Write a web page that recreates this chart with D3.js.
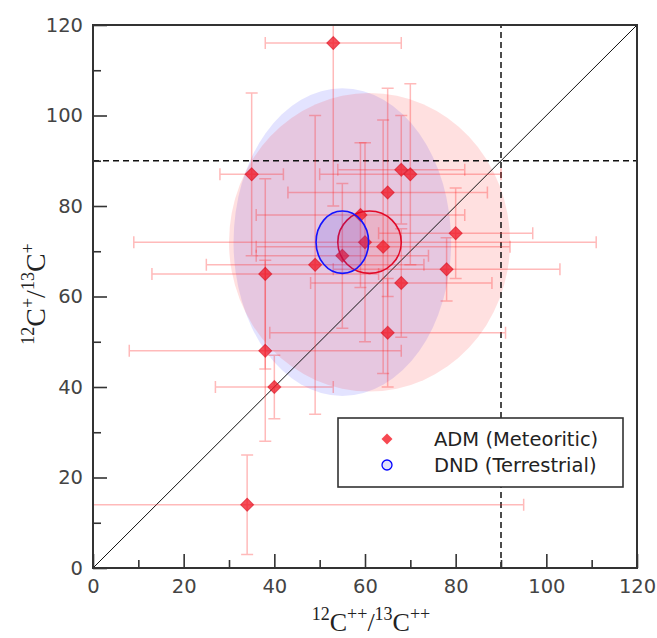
<!DOCTYPE html>
<html>
<head>
<meta charset="utf-8">
<script src="https://cdn.jsdelivr.net/npm/d3@7"></script>
<style>
  body { margin: 0; background: #fff; }
  svg { display: block; }
</style>
</head>
<body>
<div id="chart"></div>
<script>
'use strict';

// ADM (meteoritic) points
var admX = [53, 35, 68, 70, 65, 59, 80, 60, 64, 55, 49, 78, 38, 68, 65, 38, 40, 34];
var admY = [116, 87, 88, 87, 83, 78, 74, 72, 71, 69, 67, 66, 65, 63, 52, 48, 40, 14];
var admXErr = [15, 7, 14, 20, 22, 23, 17, 51, 28, 19, 24, 25, 25, 20, 26, 30, 13, 61];
var admYErr = [36, 18, 12, 20, 23, 16, 10, 22, 28, 16, 33, 7, 21, 12, 12, 20, 7, 11];

// group ellipses: [ADM, DND]
var groupNames = ['ADM (Meteoritic)', 'DND (Terrestrial)'];
var groupCx = [61, 55];
var groupCy = [72, 72];
var spreadRx = [31, 24];
var spreadRy = [33, 34];
var meanRx = [7, 5.8];
var meanRy = [6.9, 6.9];

var majorTicks = [0, 20, 40, 60, 80, 100, 120];
var minorTicks = [10, 30, 50, 70, 90, 110];
var limitValue = 90;

var width = 657, height = 638;
var plotLeft = 93, plotRight = 637, plotTop = 25, plotBottom = 568;

var x = d3.scaleLinear().domain([0, 120]).range([plotLeft, plotRight]);
var y = d3.scaleLinear().domain([0, 120]).range([plotBottom, plotTop]);

var svg = d3.select('#chart').append('svg')
    .attr('width', width)
    .attr('height', height);

svg.append('clipPath').attr('id', 'plotclip')
  .append('rect')
    .attr('x', plotLeft).attr('y', plotTop)
    .attr('width', plotRight - plotLeft).attr('height', plotBottom - plotTop);

var plot = svg.append('g').attr('clip-path', 'url(#plotclip)');

var blue = 'rgb(0,0,255)';
var groupFill = ['rgba(255,0,0,0.12)', 'rgba(0,0,255,0.11)'];

// big spread ellipses (blue under red)
[1, 0].forEach(function(i) {
    plot.append('ellipse')
        .attr('cx', x(groupCx[i]))
        .attr('cy', y(groupCy[i]))
        .attr('rx', x(spreadRx[i]) - x(0))
        .attr('ry', y(0) - y(spreadRy[i]))
        .attr('fill', groupFill[i]);
});

// 1:1 line
plot.append('line')
    .attr('x1', x(0)).attr('y1', y(0))
    .attr('x2', x(120)).attr('y2', y(120))
    .attr('stroke', '#111')
    .attr('stroke-width', 1);

// terrestrial reference lines
plot.append('line')
    .attr('x1', x(0)).attr('x2', x(120))
    .attr('y1', y(limitValue)).attr('y2', y(limitValue))
    .attr('stroke', '#111').attr('stroke-width', 1.5)
    .attr('stroke-dasharray', '6,4');
plot.append('line')
    .attr('x1', x(limitValue)).attr('x2', x(limitValue))
    .attr('y1', y(0)).attr('y2', y(120))
    .attr('stroke', '#111').attr('stroke-width', 1.5)
    .attr('stroke-dasharray', '6,4');

// error bars
var cap = 6;
var barColor = 'rgba(255,40,40,0.32)';
var bars = plot.append('g')
    .attr('stroke', barColor)
    .attr('stroke-width', 1.5)
    .attr('fill', 'none');

admX.forEach(function(v, i) {
    var px = x(v), py = y(admY[i]);
    var x0 = x(v - admXErr[i]), x1 = x(v + admXErr[i]);
    var y0 = y(admY[i] - admYErr[i]), y1 = y(admY[i] + admYErr[i]);
    bars.append('path')
        .attr('d', 'M' + x0 + ',' + py + 'H' + x1 +
            'M' + x0 + ',' + (py - cap) + 'V' + (py + cap) +
            'M' + x1 + ',' + (py - cap) + 'V' + (py + cap) +
            'M' + px + ',' + y0 + 'V' + y1 +
            'M' + (px - cap) + ',' + y0 + 'H' + (px + cap) +
            'M' + (px - cap) + ',' + y1 + 'H' + (px + cap));
});

// diamonds
var diamond = d3.symbol().type(d3.symbolSquare).size(86);
plot.append('g').selectAll('path')
    .data(admX)
    .join('path')
    .attr('d', diamond)
    .attr('transform', function(d, i) {
        return 'translate(' + x(d) + ',' + y(admY[i]) + ') rotate(45)';
    })
    .attr('fill', 'rgba(240,20,35,0.75)')
    .attr('stroke', 'rgba(210,0,20,0.5)')
    .attr('stroke-width', 1);

// mean ellipses
var meanStroke = ['rgb(225,10,40)', 'rgb(20,20,255)'];
var meanFill = ['rgba(255,60,60,0.14)', 'rgba(40,40,255,0.14)'];
[0, 1].forEach(function(i) {
    plot.append('ellipse')
        .attr('cx', x(groupCx[i]))
        .attr('cy', y(groupCy[i]))
        .attr('rx', x(meanRx[i]) - x(0))
        .attr('ry', y(0) - y(meanRy[i]))
        .attr('fill', meanFill[i])
        .attr('stroke', meanStroke[i])
        .attr('stroke-width', 1.6);
});

// axes, ticks inside
var labelColor = '#444';
var fontFamily = '"DejaVu Sans", Verdana, sans-serif';

function styleAxis(g) {
    g.select('.domain').remove();
    g.selectAll('.tick line').attr('stroke', '#333').attr('stroke-width', 1.6);
    g.selectAll('.tick text')
        .attr('fill', labelColor)
        .style('font-family', fontFamily)
        .style('font-size', '19.5px');
}

svg.append('g')
    .attr('transform', 'translate(0,' + plotBottom + ')')
    .call(d3.axisBottom(x).tickValues(minorTicks).tickSize(-8).tickFormat(''))
    .call(styleAxis);
svg.append('g')
    .attr('transform', 'translate(0,' + plotBottom + ')')
    .call(d3.axisBottom(x).tickValues(majorTicks).tickSize(-14).tickPadding(11))
    .call(styleAxis);
svg.append('g')
    .attr('transform', 'translate(' + plotLeft + ',0)')
    .call(d3.axisLeft(y).tickValues(minorTicks).tickSize(-8).tickFormat(''))
    .call(styleAxis);
svg.append('g')
    .attr('transform', 'translate(' + plotLeft + ',0)')
    .call(d3.axisLeft(y).tickValues(majorTicks).tickSize(-14).tickPadding(10))
    .call(styleAxis);

// frame
svg.append('rect')
    .attr('x', plotLeft).attr('y', plotTop)
    .attr('width', plotRight - plotLeft).attr('height', plotBottom - plotTop)
    .attr('fill', 'none')
    .attr('stroke', '#333')
    .attr('stroke-width', 2);

// axis titles with superscripts
function isotopeTitle(sel, charge) {
    var parts = [['12', true], ['C', false], [charge, true], ['/', false],
        ['13', true], ['C', false], [charge, true]];
    var lifted = false;
    parts.forEach(function(p) {
        var t = sel.append('tspan').text(p[0]);
        if (p[1]) {
            t.attr('font-size', 18).attr('dy', lifted ? 0 : -11);
            lifted = true;
        } else {
            t.attr('dy', lifted ? 11 : 0);
            lifted = false;
        }
    });
}

var xTitle = svg.append('text')
    .attr('x', 371).attr('y', 631)
    .attr('text-anchor', 'middle')
    .attr('fill', '#222')
    .style('font-family', '"Liberation Serif", "Times New Roman", serif')
    .style('font-size', '26px');
isotopeTitle(xTitle, '++');

var yTitle = svg.append('text')
    .attr('transform', 'translate(45,294) rotate(-90)')
    .attr('text-anchor', 'middle')
    .attr('fill', '#222')
    .style('font-family', '"Liberation Serif", "Times New Roman", serif')
    .style('font-size', '28px');
isotopeTitle(yTitle, '+');

// legend
var legend = svg.append('g');
legend.append('rect')
    .attr('x', 338).attr('y', 418)
    .attr('width', 285).attr('height', 69)
    .attr('fill', '#fff')
    .attr('stroke', '#333')
    .attr('stroke-width', 1.6);

legend.append('path')
    .attr('d', d3.symbol().type(d3.symbolSquare).size(60))
    .attr('transform', 'translate(387,439) rotate(45)')
    .attr('fill', 'rgba(245,40,50,0.85)');
legend.append('circle')
    .attr('cx', 387).attr('cy', 465).attr('r', 5)
    .attr('fill', 'rgb(225,225,250)')
    .attr('stroke', blue)
    .attr('stroke-width', 1.3);

groupNames.forEach(function(name, i) {
    legend.append('text')
        .attr('x', 434).attr('y', 439 + i * 26)
        .attr('dy', '0.35em')
        .attr('fill', '#222')
        .style('font-family', fontFamily)
        .style('font-size', '19.5px')
        .text(name);
});
</script>
</body>
</html>
